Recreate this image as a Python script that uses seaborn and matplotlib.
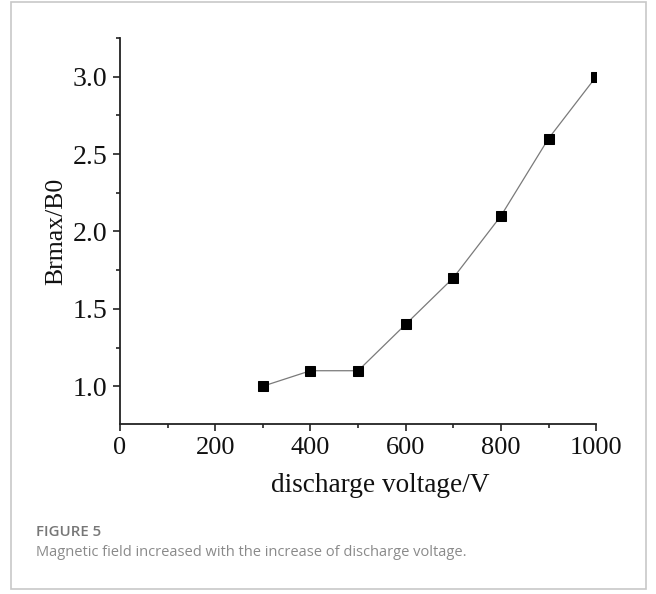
import matplotlib

matplotlib.use("Agg")

import matplotlib.pyplot as plt
import pandas as pd
import seaborn as sns
from matplotlib.patches import Rectangle
from matplotlib.ticker import MultipleLocator

# ── Data ──────────────────────────────────────────────────────────────────────
voltage = [300, 400, 500, 600, 700, 800, 900, 1000]
brmax_ratio = [1.0, 1.1, 1.1, 1.4, 1.7, 2.1, 2.6, 3.0]
x_ticks = [0, 200, 400, 600, 800, 1000]
y_ticks = [1.0, 1.5, 2.0, 2.5, 3.0]

df = pd.DataFrame({"voltage": voltage, "ratio": brmax_ratio})

sns.set_style("ticks")
plt.rcParams["font.family"] = ["Liberation Serif", "DejaVu Serif"]

fig = plt.figure(figsize=(6.56, 5.94), dpi=100)
ax = fig.add_axes([0.183, 0.286, 0.7257, 0.65])

sns.lineplot(data=df, x="voltage", y="ratio", ax=ax, color="#7a7a7a",
             linewidth=0.9, marker="s", markersize=7, markerfacecolor="black",
             markeredgecolor="black", clip_on=True)

ax.set_xlim(0, 1000)
ax.set_ylim(0.755, 3.25)
ax.set_xticks(x_ticks)
ax.set_yticks(y_ticks)
ax.set_yticklabels([f"{v:.1f}" for v in y_ticks])
ax.xaxis.set_minor_locator(MultipleLocator(100))
ax.yaxis.set_minor_locator(MultipleLocator(0.25))
ax.tick_params(which="major", direction="out", length=5, width=1.2,
               labelsize=19, color="#222222", labelcolor="#111111", pad=4)
ax.tick_params(axis="y", which="major", labelsize=20)
ax.tick_params(which="minor", direction="out", length=3, width=1.2, color="#222222")

for side in ("top", "right"):
    ax.spines[side].set_visible(False)
for side in ("left", "bottom"):
    ax.spines[side].set_linewidth(1.3)
    ax.spines[side].set_color("#222222")

ax.set_xlabel("discharge voltage/V", fontsize=19.6, color="#111111")
ax.xaxis.set_label_coords(0.546, -0.127)
ax.set_ylabel("Brmax/B0", fontsize=18.5, color="#111111", labelpad=4)

# ── Caption frame ─────────────────────────────────────────────────────────────
fig.patches.append(Rectangle((11 / 656, 5 / 594), 635 / 656, 587 / 594,
                             transform=fig.transFigure, fill=False,
                             edgecolor="#c8c8c8", linewidth=1.2))
fig.text(36 / 656, 1 - 532 / 594, "FIGURE 5", fontsize=10.8, color="#777777",
         family=["Open Sans", "DejaVu Sans"], fontweight="semibold", va="center")
fig.text(36 / 656, 1 - 552 / 594,
         "Magnetic field increased with the increase of discharge voltage.",
         fontsize=10.5, color="#8a8a8a", family=["Open Sans", "DejaVu Sans"], va="center")

fig.savefig("out.png", dpi=100)
plt.close(fig)
